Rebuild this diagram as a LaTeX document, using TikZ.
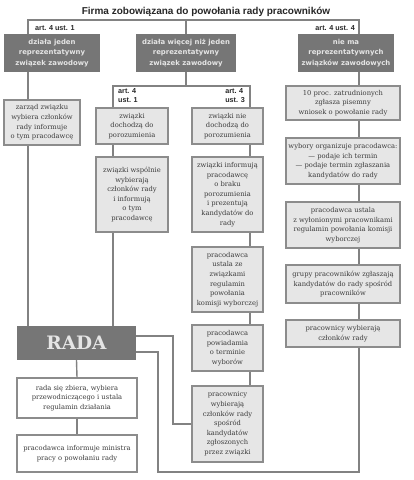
\documentclass[tikz,border=0pt]{standalone}
\usepackage{fontspec}
\setmainfont{DejaVu Serif}
\newfontfamily\titlefont{Liberation Sans}
\newfontfamily\darkfont{DejaVu Sans}
\newfontfamily\radafont{DejaVu Serif}
\usetikzlibrary{calc}
\definecolor{dark}{HTML}{767676}
\definecolor{boxfill}{HTML}{E6E6E6}
\definecolor{boxline}{HTML}{8C8C8C}
\definecolor{conncol}{HTML}{828282}
\definecolor{txt}{HTML}{3C3C3C}
\tikzset{
  lbox/.style={draw=boxline, fill=boxfill, line width=1.1pt, inner sep=0pt, align=center, text=txt,
    font=\fontsize{6.75}{9.6}\selectfont},
  wbox/.style={lbox, fill=white, line width=1.4pt},
  dbox/.style={fill=dark, inner sep=0pt, align=center, text=white!90!black,
    font=\darkfont\bfseries\fontsize{6.9}{10.2}\selectfont},
  conn/.style={draw=conncol, line width=1.4pt},
  artlabel/.style={inner sep=0pt, text=black!85, font=\titlefont\bfseries\fontsize{7.2}{9}\selectfont},
}
\newcommand\bx[7]{\node[#6, minimum width={(#4-#2)*1pt}, minimum height={(#5-#3)*1pt}] (#1) at ({(#2+#4)/2},{(#3+#5)/2}) {#7};}
\begin{document}
\begin{tikzpicture}[x=1pt,y=-1pt]
\useasboundingbox (0,0) rectangle (413,480);
\node[inner sep=0pt, text=black!85, font=\titlefont\bfseries\fontsize{10}{12}\selectfont] (title) at (206,12) {Firma zobowiązana do powołania rady pracowników};
% coordinates for connectors
\coordinate (tl) at (28,20);
\coordinate (tr) at (359,20);
\coordinate (ml) at (113,86);
\coordinate (mr) at (250,86);
\coordinate (ra) at (173,336);
\coordinate (rb) at (158,352);
\coordinate (bot) at (359,472);
% top row
\bx{b1}{4}{34}{100}{72}{dbox}{działa jeden\\reprezentatywny\\związek zawodowy}
\bx{b2}{136}{34}{236}{72}{dbox}{działa więcej niż jeden\\reprezentatywny\\związek zawodowy}
\bx{b3}{298}{34}{394}{72}{dbox}{nie ma\\reprezentatywnych\\związków zawodowych}
% left
\bx{z1}{4}{100}{80}{145}{lbox}{zarząd związku\\wybiera członków\\rady informuje\\o tym pracodawcę}
% middle
\bx{m1}{96}{108}{168}{144}{lbox}{związki\\dochodzą do\\porozumienia}
\bx{m2}{96}{157}{168}{232}{lbox}{związki wspólnie\\wybierają\\członków rady\\i informują\\o tym\\pracodawcę}
\bx{n1}{192}{108}{263}{144}{lbox}{związki nie\\dochodzą do\\porozumienia}
\bx{n2}{192}{157}{263}{232}{lbox}{związki informują\\pracodawcę\\o braku\\porozumienia\\i prezentują\\kandydatów do\\rady}
\bx{n3}{192}{247}{263}{312}{lbox}{pracodawca\\ustala ze\\związkami\\regulamin\\powołania\\komisji wyborczej}
\bx{n4}{192}{325}{263}{371}{lbox}{pracodawca\\powiadamia\\o terminie\\wyborów}
\bx{n5}{192}{386}{263}{462}{lbox}{pracownicy\\wybierają\\członków rady\\spośród\\kandydatów\\zgłoszonych\\przez związki}
% right
\bx{r1}{286}{86}{400}{120}{lbox}{10 proc. zatrudnionych\\zgłasza pisemny\\wniosek o powołanie rady}
\bx{r2}{286}{138}{400}{184}{lbox}{wybory organizuje pracodawca:\\— podaje ich termin\\— podaje termin zgłaszania\\kandydatów do rady}
\bx{r3}{286}{202}{400}{248}{lbox}{pracodawca ustala\\z wyłonionymi pracownikami\\regulamin powołania komisji\\wyborczej}
\bx{r4}{286}{265}{400}{303}{lbox}{grupy pracowników zgłaszają\\kandydatów do rady spośród\\pracowników}
\bx{r5}{286}{320}{400}{347}{lbox}{pracownicy wybierają\\członków rady}
% rada
\bx{rada}{17}{326}{136}{360}{dbox}{\radafont\bfseries\fontsize{18.5}{20}\selectfont RADA}
\bx{w1}{17}{378}{137}{418}{wbox}{rada się zbiera, wybiera\\przewodniczącego i ustala\\regulamin działania}
\bx{w2}{17}{435}{137}{472}{wbox}{pracodawca informuje ministra\\pracy o powołaniu rady}
% labels
\node[artlabel, anchor=west] (l1) at (35,28) {art. 4 ust. 1};
\node[artlabel, anchor=east] (l4) at (355,28) {art. 4 ust. 4};
\node[artlabel, anchor=west, align=left] (l2) at (118,96) {art. 4\\ust. 1};
\node[artlabel, anchor=east, align=left] (l3) at (245,96) {art. 4\\ust. 3};
% connectors
\draw[conn] (b1.north -| tl) -- (tl) -- (tr) -- (b3.north -| tr);
\draw[conn] (b2.north) -- (b2.north |- tl);
\draw[conn] (b1.south -| tl) -- (z1.north -| tl);
\draw[conn] (z1.south -| tl) -- (rada.north -| tl);
\draw[conn] (b2.south) -- (b2.south |- ml);
\draw[conn] (m1.north -| ml) -- (ml) -- (mr) -- (n1.north -| mr);
\draw[conn] (m1.south -| ml) -- (m2.north -| ml);
\draw[conn] (m2.south -| ml) -- (rada.north -| ml);
\draw[conn] (n1.south -| mr) -- (n2.north -| mr);
\draw[conn] (n2.south -| mr) -- (n3.north -| mr);
\draw[conn] (n3.south -| mr) -- (n4.north -| mr);
\draw[conn] (n4.south -| mr) -- (n5.north -| mr);
\draw[conn] (b3.south -| tr) -- (r1.north -| tr);
\draw[conn] (r1.south -| tr) -- (r2.north -| tr);
\draw[conn] (r2.south -| tr) -- (r3.north -| tr);
\draw[conn] (r3.south -| tr) -- (r4.north -| tr);
\draw[conn] (r4.south -| tr) -- (r5.north -| tr);
\draw[conn] (rada.east |- ra) -- (ra) -- (ra |- n5.west) -- (n5.west);
\draw[conn] (rada.east |- rb) -- (rb) -- (rb |- bot) -- (bot) -- (r5.south -| bot);
\draw[conn] (rada.south) -- (w1.north);
\draw[conn] (w1.south) -- (w2.north);
\end{tikzpicture}
\end{document}
